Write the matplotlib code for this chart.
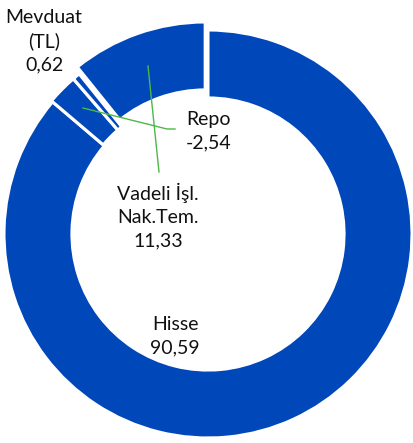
import matplotlib.pyplot as plt

# portfolio breakdown (%)
labels = ["Hisse", "Repo", "Mevduat\n(TL)", "Vadeli İşl.\nNak.Tem."]
values = [90.59, -2.54, 0.62, 11.33]
value_text = ["90,59", "-2,54", "0,62", "11,33"]

BLUE = "#0047BA"
GREEN = "#4DB84A"
W, H = 413, 443

fig = plt.figure(figsize=(W / 100, H / 100), dpi=100)
ax = fig.add_axes([0, 0, 1, 1])

# Excel draws slices by absolute size
sizes = [abs(v) for v in values]
cx, cy, R = 208, H - 234, 204
# explode is in data units (pixels here)
ax.pie(sizes, startangle=90, counterclock=False, radius=R, center=(cx, cy),
       explode=[0, 1.5, 1.5, 8.5], colors=[BLUE] * 4,
       wedgeprops=dict(width=R * 0.333, edgecolor="white", linewidth=2.2))

ax.set_xlim(0, W)
ax.set_ylim(0, H)
ax.set_aspect("equal")
ax.axis("off")

def px(x, y):
    return x, H - y

plt.rcParams["font.family"] = ["Lato", "DejaVu Sans"]
fs = 14
label_pos = [(175, 336), (209, 131), (44, 41), (158, 216)]
for lab, val, (x, y) in zip(labels, value_text, label_pos):
    ax.text(*px(x, y), lab + "\n" + val, ha="center", va="center",
            fontsize=fs, linespacing=1.42, color="#111111")

# leader lines
ax.plot(*zip(px(83, 108), px(167, 129), px(175, 129)), color=GREEN, lw=1)
ax.plot(*zip(px(148, 66), px(159, 172)), color=GREEN, lw=1)

fig.savefig("out.png", dpi=100)
